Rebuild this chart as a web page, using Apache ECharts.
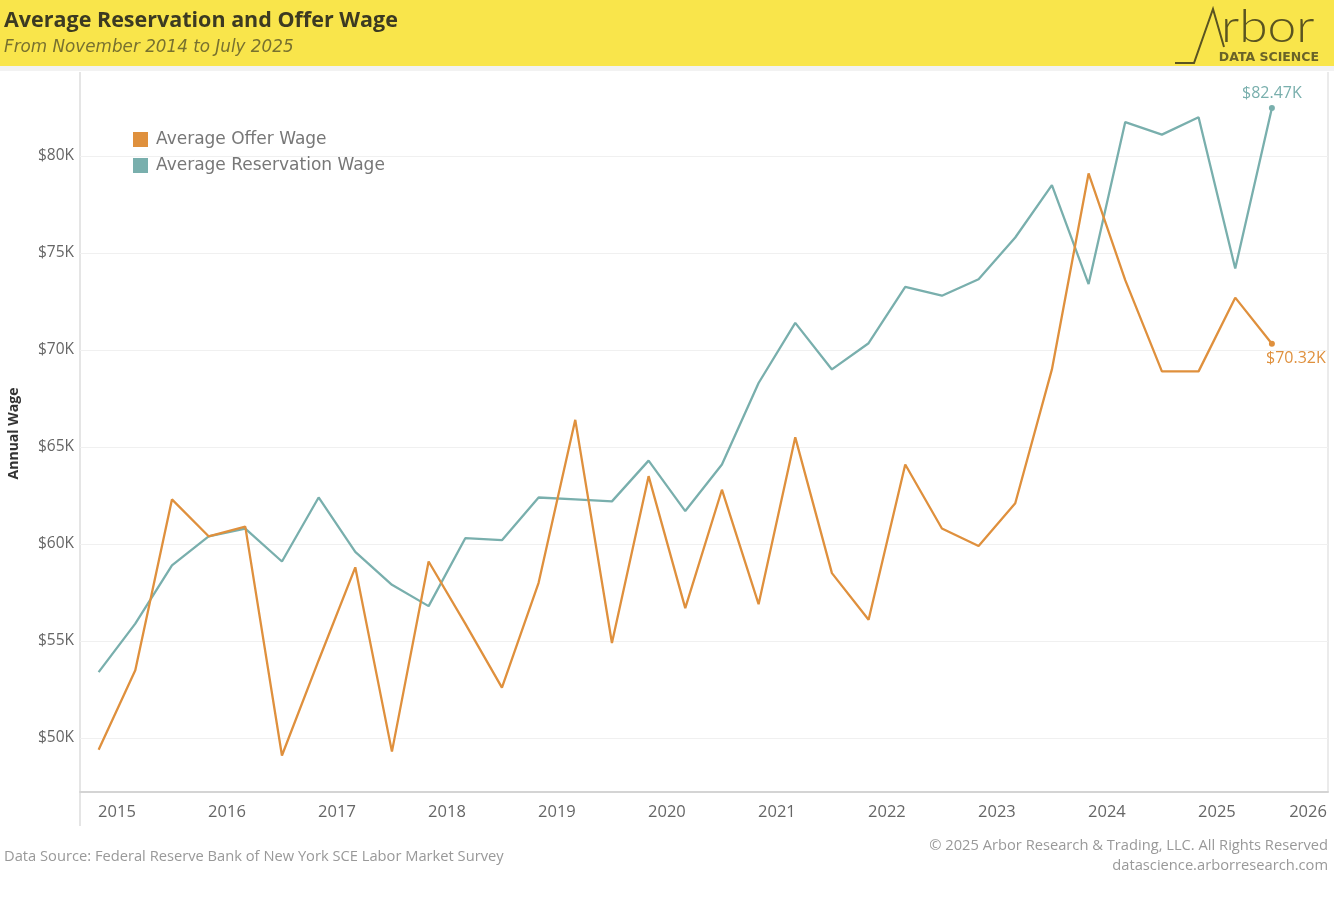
<!DOCTYPE html>
<html>
<head>
<meta charset="utf-8">
<script src="https://cdn.jsdelivr.net/npm/echarts@6/dist/echarts.min.js"></script>
<style>
html,body{margin:0;padding:0;background:#fff;}
#chart{width:1334px;height:918px;}
</style>
</head>
<body>
<div id="chart"></div>
<script>
// ---- Data (survey months, Nov 2014 – Jul 2025) ----
const surveyDates = ['2014-11','2015-03','2015-07','2015-11','2016-03','2016-07','2016-11','2017-03','2017-07','2017-11',
  '2018-03','2018-07','2018-11','2019-03','2019-07','2019-11','2020-03','2020-07','2020-11','2021-03',
  '2021-07','2021-11','2022-03','2022-07','2022-11','2023-03','2023-07','2023-11','2024-03','2024-07',
  '2024-11','2025-03','2025-07'];
const offerWage = [49400,53500,62300,60400,60900,49100,54000,58800,49300,59100,
  55900,52600,58000,66400,54900,63500,56700,62800,56900,65500,
  58500,56100,64100,60800,59900,62100,69000,79100,73600,68900,
  68900,72700,70320];
const reservationWage = [53400,55900,58900,60400,60800,59100,62400,59600,57900,56800,
  60300,60200,62400,62300,62200,64300,61700,64100,68300,71400,
  69000,70350,73250,72800,73650,75800,78500,73400,81750,81100,
  82000,74200,82470];
const yTickValues = [50000,55000,60000,65000,70000,75000,80000];
const xTickYears = [2015,2016,2017,2018,2019,2020,2021,2022,2023,2024,2025,2026];
const seriesNames = ['Average Offer Wage','Average Reservation Wage'];

const ORANGE = '#DF903D';
const TEAL = '#79AFAD';

function toYear(d){ const p=d.split('-'); return (+p[0]) + (+p[1]-1)/12; }
function fmtK(v){ return '$' + (v/1000).toFixed(2) + 'K'; }

function buildData(vals, color, labelPos, labelOffset){
  return vals.map(function(v,i){
    const item = { value:[toYear(surveyDates[i]), v] };
    if(i === vals.length-1){
      item.symbolSize = 6;
      item.label = { show:true, position:labelPos, offset:labelOffset, distance:4,
        formatter: function(){ return fmtK(v); },
        color: color, fontSize: 16, fontFamily: 'Open Sans' };
    }
    return item;
  });
}

const chart = echarts.init(document.getElementById('chart'));
const option = {
  backgroundColor:'#fff',
  animation:false,
  grid:{ left:80, right:6, top:75, bottom:126, outerBoundsMode:'none', containLabel:false },
  legend:{
    data: seriesNames,
    orient:'vertical', left:128, top:126, padding:5,
    icon:'rect', itemWidth:15, itemHeight:15, itemGap:9,
    textStyle:{ fontSize:17, color:'#777', fontFamily:'DejaVu Sans', padding:[0,0,0,3], lineHeight:15 }
  },
  xAxis:{
    type:'value', min:2014.664, max:2026.01,
    axisLine:{ show:true, lineStyle:{ color:'#d4d4d4', width:2 } },
    axisTick:{ show:false, customValues: xTickYears },
    splitLine:{ show:false },
    axisLabel:{ customValues: xTickYears, formatter:function(v){ return String(Math.round(v)); },
      fontSize:16.5, color:'#666', margin:12, fontFamily:'Open Sans', alignMaxLabel:'right' }
  },
  yAxis:{
    type:'value', min:47220, max:84175,
    name:'Annual Wage', nameLocation:'middle', nameGap:59, nameRotate:90,
    nameTextStyle:{ fontSize:14, fontWeight:'bold', color:'#333', fontFamily:'Open Sans' },
    axisLine:{ show:false },
    axisTick:{ show:false, customValues: yTickValues },
    splitLine:{ show:true, lineStyle:{ color:'#f0f0f0', width:1 } },
    axisLabel:{ customValues: yTickValues, formatter:function(v){ return '$' + Math.round(v/1000) + 'K'; },
      fontSize:15.5, color:'#666', margin:6, fontFamily:'Open Sans' }
  },
  series:[
    { name:seriesNames[0], type:'line', color:ORANGE,
      symbol:'circle', symbolSize:0, showSymbol:true, showAllSymbol:true,
      lineStyle:{ width:2.3, color:ORANGE }, itemStyle:{ color:ORANGE },
      data: buildData(offerWage, ORANGE, 'bottom', [24,0]), z:3 },
    { name:seriesNames[1], type:'line', color:TEAL,
      symbol:'circle', symbolSize:0, showSymbol:true, showAllSymbol:true,
      lineStyle:{ width:2.3, color:TEAL }, itemStyle:{ color:TEAL },
      data: buildData(reservationWage, TEAL, 'top', [0,0]), z:2 }
  ],
  graphic:[
    { type:'rect', left:0, top:0, shape:{ width:1334, height:66 }, style:{ fill:'#F9E54B' }, z:-1 },
    { type:'rect', left:0, top:66, shape:{ width:1334, height:5 }, style:{ fill:'#f2f2f2' }, z:-1 },
    { type:'text', left:4, top:10, style:{ text:'Average Reservation and Offer Wage', fontSize:21.5, fontWeight:'bold', fill:'#3c3a22', fontFamily:'Open Sans' } },
    { type:'text', left:4, top:39, style:{ text:'From November 2014 to July 2025', fontSize:16.8, fontStyle:'italic', fill:'#78712f', fontFamily:'DejaVu Sans' } },
    { type:'polyline', shape:{ points:[[1175,63],[1194,63],[1213,9],[1224,47]] }, style:{ stroke:'#5a5421', lineWidth:2, fill:null } },
    { type:'text', x:1221, y:50, scaleX:1.12, originX:0, originY:0, style:{ text:'rbor', fontSize:46, fontWeight:300, fill:'#5a5421', fontFamily:'Lato', textBaseline:'bottom', textVerticalAlign:'bottom' } },
    { type:'text', x:1319, y:58, style:{ text:'DATA SCIENCE', fontSize:12.5, fontWeight:'bold', fill:'#6a6328', fontFamily:'DejaVu Sans', textAlign:'right', textVerticalAlign:'middle' } },
    { type:'line', shape:{ x1:80, y1:72, x2:80, y2:826 }, style:{ stroke:'#dcdcdc', lineWidth:1.5 } },
    { type:'line', shape:{ x1:1328, y1:72, x2:1328, y2:792 }, style:{ stroke:'#e4e4e4', lineWidth:1.5 } },
    { type:'text', left:4, top:849, style:{ text:'Data Source: Federal Reserve Bank of New York SCE Labor Market Survey', fontSize:14.7, fill:'#999', fontFamily:'Open Sans' } },
    { type:'text', right:6, top:838, style:{ text:'\u00a9 2025 Arbor Research & Trading, LLC. All Rights Reserved', fontSize:14.7, fill:'#999', fontFamily:'Open Sans', textAlign:'right' } },
    { type:'text', right:6, top:858, style:{ text:'datascience.arborresearch.com', fontSize:14.7, fill:'#999', fontFamily:'Open Sans', textAlign:'right' } }
  ]
};
chart.setOption(option);
</script>
</body>
</html>
